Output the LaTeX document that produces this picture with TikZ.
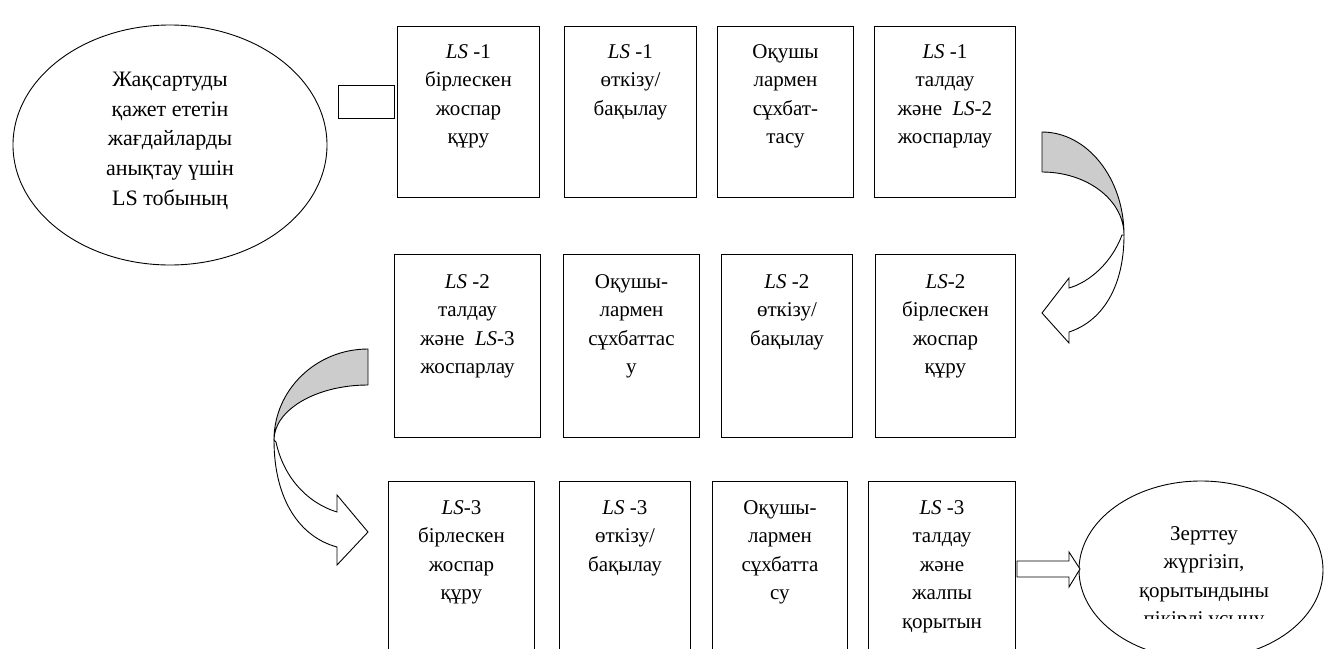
\documentclass[tikz,border=0pt]{standalone}
\usepackage{fontspec}
\setmainfont{Liberation Serif}
\usetikzlibrary{shapes.geometric}
\begin{document}
\begin{tikzpicture}[x=1pt,y=-1pt,line width=0.9pt,
  box/.style={draw,anchor=north west,inner sep=0pt},
  txt/.style={align=center,inner sep=0pt,anchor=north,font=\fontsize{21pt}{28.5pt}\selectfont},
  etxt/.style={align=center,inner sep=0pt,anchor=north,font=\fontsize{22pt}{29.7pt}\selectfont},
  shade/.style={draw,fill=black!20,line join=round},
  front/.style={draw,fill=white,line join=miter}]
\useasboundingbox (0,0) rectangle (1325,648);

% left ellipse
\node[draw,ellipse,minimum width=314pt,minimum height=240pt,inner sep=0pt] (e1) at (170,145) {};
\node[etxt] (te1) at ([yshift=-47pt]e1.north) {Жақсартуды\\қажет ететін\\жағдайларды\\анықтау үшін\\LS тобының};

% row 1
\node[box,minimum width=142pt,minimum height=171pt] (b11) at (397,26) {};
\node[box,minimum width=132pt,minimum height=171pt] (b12) at (564,26) {};
\node[box,minimum width=136pt,minimum height=171pt] (b13) at (717,26) {};
\node[box,minimum width=141pt,minimum height=171pt] (b14) at (874,26) {};
\node[txt] (t11) at ([yshift=-18pt]b11.north) {\textit{LS} -1\\бірлескен\\жоспар\\құру};
\node[txt] (t12) at ([yshift=-18pt]b12.north) {\textit{LS} -1\\өткізу/\\бақылау};
\node[txt] (t13) at ([yshift=-18pt]b13.north) {Оқушы\\лармен\\сұхбат-\\тасу};
\node[txt] (t14) at ([yshift=-18pt]b14.north) {\textit{LS} -1\\талдау\\және\ \ \textit{LS}-2\\жоспарлау};

% small rectangle before first box
\node[draw,minimum width=56pt,minimum height=33pt,inner sep=0pt,anchor=east] (r1) at ([xshift=-2pt,yshift=10pt]b11.west) {};

% row 2
\node[box,minimum width=146pt,minimum height=183pt] (b21) at (394,254) {};
\node[box,minimum width=136pt,minimum height=183pt] (b22) at (563,254) {};
\node[box,minimum width=131pt,minimum height=183pt] (b23) at (721,254) {};
\node[box,minimum width=140pt,minimum height=183pt] (b24) at (875,254) {};
\node[txt] (t21) at ([yshift=-20pt]b21.north) {\textit{LS} -2\\талдау\\және\ \ \textit{LS}-3\\жоспарлау};
\node[txt] (t22) at ([yshift=-20pt]b22.north) {Оқушы-\\лармен\\сұхбаттас\\у};
\node[txt] (t23) at ([yshift=-20pt]b23.north) {\textit{LS} -2\\өткізу/\\бақылау};
\node[txt] (t24) at ([yshift=-20pt]b24.north) {\textit{LS}-2\\бірлескен\\жоспар\\құру};

% row 3
\node[box,minimum width=146pt,minimum height=200pt] (b31) at (388,481) {};
\node[box,minimum width=131pt,minimum height=200pt] (b32) at (559,481) {};
\node[box,minimum width=135pt,minimum height=200pt] (b33) at (712,481) {};
\node[box,minimum width=147pt,minimum height=200pt] (b34) at (868,481) {};
\node[txt] (t31) at ([yshift=-19pt]b31.north) {\textit{LS}-3\\бірлескен\\жоспар\\құру};
\node[txt] (t32) at ([yshift=-19pt]b32.north) {\textit{LS} -3\\өткізу/\\бақылау};
\node[txt] (t33) at ([yshift=-19pt]b33.north) {Оқушы-\\лармен\\сұхбатта\\су};
\node[txt] (t34) at ([yshift=-19pt]b34.north) {\textit{LS} -3\\талдау\\және\\жалпы\\қорытын};

% right ellipse
\node[draw,ellipse,minimum width=244pt,minimum height=178pt,inner sep=0pt] (e2) at (1201,570) {};
\begin{scope}
\clip (1080,490) rectangle (1325,618);
\node[txt] (te2) at (1204,526) {Зерттеу\\жүргізіп,\\қорытындыны\\пікірлі ұсыну};
\end{scope}

% block arrow to the right ellipse
\draw[front] (1017,561) -- (1069,561) -- (1069,552) -- (1080,569) -- (1069,587) -- (1069,577) -- (1017,577) -- cycle;

% curved arrow (right side)
\draw[shade] (1042,132) .. controls (1087,132) and (1124,178) .. (1124,235)
  .. controls (1124,200) and (1087,172) .. (1042,172) -- cycle;
\draw[front] (1124,235) .. controls (1124,290) and (1100,322) .. (1069,332)
  -- (1069,343) -- (1042,313) -- (1069,278) -- (1069,288)
  .. controls (1090,282) and (1112,262) .. (1122,235) -- cycle;

% curved arrow (left side)
\draw[shade] (368,349) .. controls (316,349) and (274,390) .. (274,440)
  .. controls (274,410) and (316,385) .. (368,385) -- cycle;
\draw[front] (274,440) .. controls (274,500) and (300,537) .. (337,547)
  -- (337,565) -- (368,532) -- (337,495) -- (337,512)
  .. controls (305,502) and (283,475) .. (276,442) -- cycle;
\end{tikzpicture}
\end{document}
